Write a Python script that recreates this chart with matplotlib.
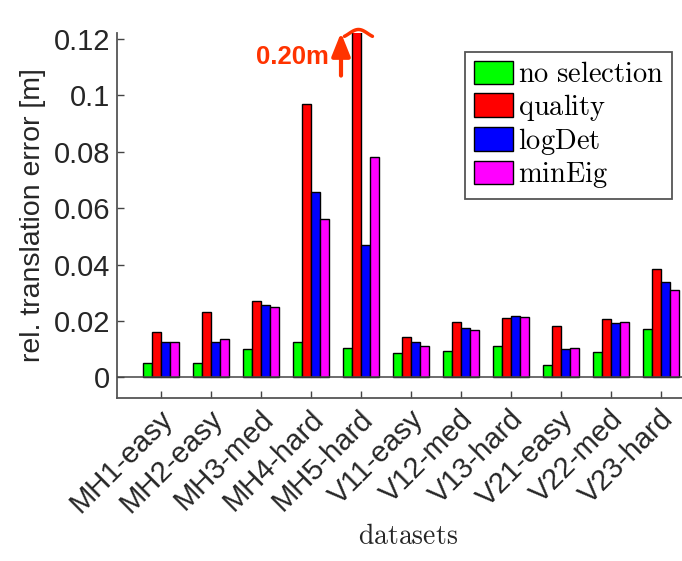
import numpy as np
import matplotlib
matplotlib.use('Agg')
import matplotlib.pyplot as plt
import matplotlib.transforms as mtransforms

plt.rcParams['font.family'] = ['Liberation Sans', 'DejaVu Sans']
plt.rcParams['mathtext.fontset'] = 'cm'

# data
datasets = ['MH1-easy', 'MH2-easy', 'MH3-med', 'MH4-hard', 'MH5-hard',
            'V11-easy', 'V12-med', 'V13-hard', 'V21-easy', 'V22-med', 'V23-hard']
no_selection = [0.0050, 0.0050, 0.0100, 0.0126, 0.0104, 0.0085, 0.0094, 0.0112, 0.0044, 0.0091, 0.0171]
quality = [0.0160, 0.0233, 0.0271, 0.0971, 0.2000, 0.0144, 0.0195, 0.0209, 0.0182, 0.0208, 0.0385]
logdet = [0.0126, 0.0126, 0.0258, 0.0657, 0.0469, 0.0124, 0.0174, 0.0219, 0.0099, 0.0193, 0.0337]
mineig = [0.0127, 0.0135, 0.0248, 0.0560, 0.0780, 0.0111, 0.0168, 0.0215, 0.0104, 0.0196, 0.0310]
series_names = ['no selection', 'quality', 'logDet', 'minEig']
colors = ['#00ff00', '#ff0000', '#0000ff', '#ff00ff']
yticks = [0, 0.02, 0.04, 0.06, 0.08, 0.1, 0.12]
ytick_labels = ['0', '0.02', '0.04', '0.06', '0.08', '0.1', '0.12']
clipped_note = '0.20m'

fig = plt.figure(figsize=(6.82, 5.61), dpi=100)
ax = fig.add_axes([117 / 682, 1 - 398 / 561, 565 / 682, 365 / 561])

x = np.arange(1, len(datasets) + 1)
bw = 0.182
offsets = (np.arange(4) - 1.5) * bw
series = [no_selection, quality, logdet, mineig]
for vals, off, c, name in zip(series, offsets, colors, series_names):
    ax.bar(x + off, vals, width=bw, color=c, edgecolor='black', linewidth=1.0,
           label=r'$\mathrm{' + name.replace(' ', r'\ ') + '}$', zorder=2)

ax.axhline(0, color='#444444', linewidth=1.1, zorder=3)

ax.set_xlim(0.12, 11.42)
ax.set_ylim(-0.0073, 0.1221)
ax.set_xticks(x)
ax.set_xticklabels(datasets, rotation=45, ha='right', va='center',
                   rotation_mode='anchor', fontsize=21, color='#262626')
ax.set_yticks(yticks)
ax.set_yticklabels(ytick_labels, fontsize=21, color='#262626')
ax.tick_params(direction='in', length=5, width=1, color='#444444')
ax.tick_params(axis='x', pad=12)
ax.tick_params(axis='y', pad=5)
for lbl in ax.get_xticklabels():
    lbl.set_transform(lbl.get_transform() + mtransforms.Affine2D().translate(8, 0))

for s in ['top', 'right']:
    ax.spines[s].set_visible(False)
for s in ['left', 'bottom']:
    ax.spines[s].set_color('#555555')
    ax.spines[s].set_linewidth(1.3)

ax.set_ylabel('rel. translation error [m]', fontsize=20.5, color='#262626')
ax.yaxis.set_label_coords(-0.125, 0.5)

fig.text(408 / 682, 1 - 537 / 561, r'$\mathrm{datasets}$', fontsize=20,
         ha='center', va='center', color='#262626')

leg = ax.legend(loc='upper right', bbox_to_anchor=(672 / 682, 1 - 52 / 561),
                bbox_transform=fig.transFigure, fontsize=20.5, fancybox=False,
                framealpha=1, edgecolor='#555555', borderaxespad=0,
                handlelength=1.4, handleheight=0.9, handletextpad=0.15,
                labelspacing=0.12, borderpad=0.3)
leg.get_frame().set_linewidth(1.3)

# marker for the clipped quality bar on MH5-hard
red = '#ff3300'
clip_i = int(np.argmax(quality))
bar_x = x[clip_i] + offsets[1]
ax.annotate('', xy=(x[clip_i] - 0.4, 0.1222), xytext=(x[clip_i] - 0.4, 0.1070),
            arrowprops=dict(arrowstyle='-|>,head_width=0.28,head_length=0.7',
                            mutation_scale=20, color=red, lw=3,
                            shrinkA=0, shrinkB=0), annotation_clip=False)
ax.text(x[clip_i] - 0.635, 0.1136, clipped_note, color=red, fontsize=18.5,
        fontweight='bold', ha='right', va='center')

fig.canvas.draw()
base = ax.transData.transform((bar_x, 0.1221))
t = np.linspace(0, 1, 40)
sx = -12 + 28 * t
sy = 4 * np.sin(np.pi * (1.5 * t - 0.25)) - 0.5
ax.plot(sx, sy, color=red, lw=2.5, solid_capstyle='round', clip_on=False,
        transform=mtransforms.Affine2D().translate(*base), zorder=5)

fig.savefig('out.png', dpi=100)
